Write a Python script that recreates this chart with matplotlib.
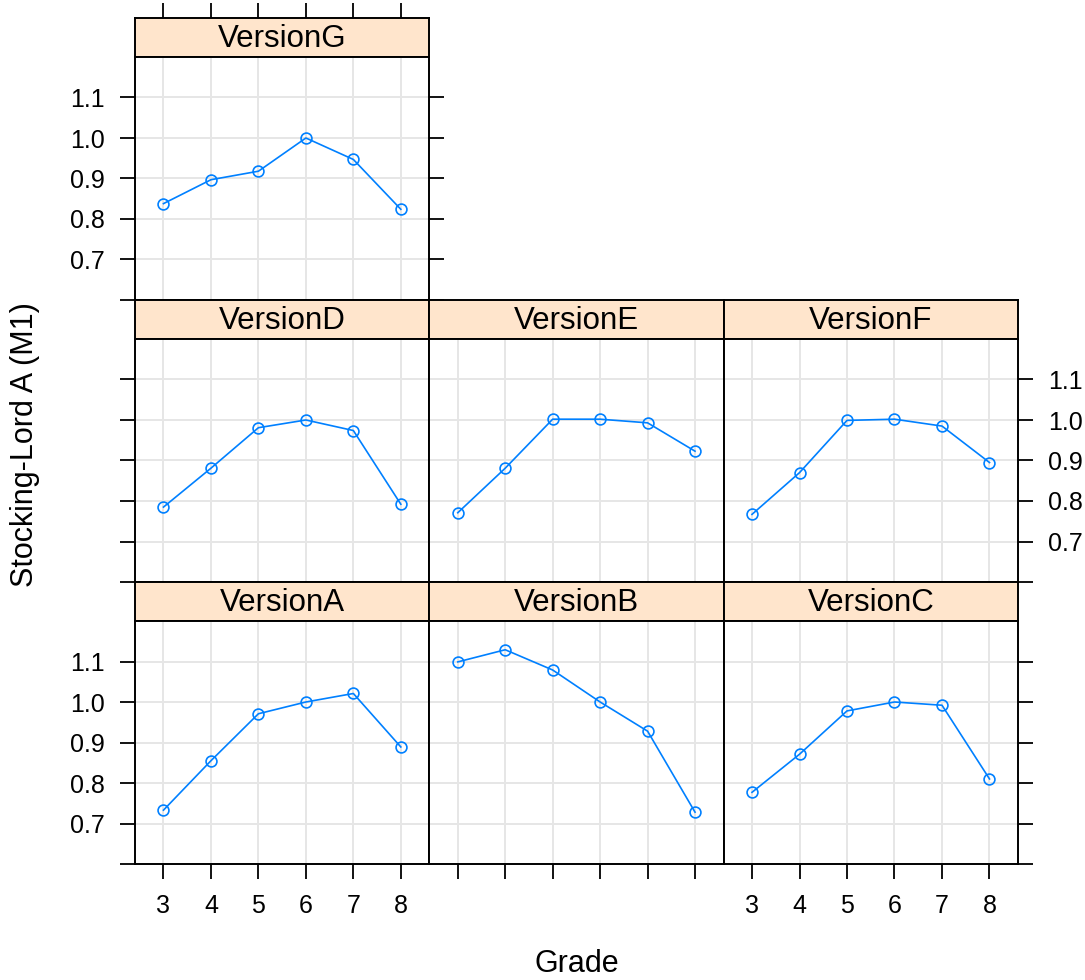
import matplotlib
matplotlib.use("Agg")
import matplotlib.pyplot as plt

plt.rcParams['font.family'] = ['Liberation Sans', 'DejaVu Sans']

# Stocking-Lord A (M1) by grade, one panel per test version
grade = [3, 4, 5, 6, 7, 8]
version_a = [0.733, 0.855, 0.971, 1.000, 1.021, 0.889]
version_b = [1.099, 1.129, 1.079, 1.000, 0.928, 0.728]
version_c = [0.777, 0.871, 0.978, 1.000, 0.992, 0.810]
version_d = [0.785, 0.881, 0.981, 1.000, 0.974, 0.792]
version_e = [0.771, 0.881, 1.002, 1.002, 0.993, 0.923]
version_f = [0.767, 0.870, 0.999, 1.002, 0.985, 0.895]
version_g = [0.838, 0.897, 0.918, 1.000, 0.947, 0.824]

y_ticks = [0.6, 0.7, 0.8, 0.9, 1.0, 1.1]
y_labels = ["", "0.7", "0.8", "0.9", "1.0", "1.1"]

W, H = 1085, 980
fig = plt.figure(figsize=(W / 100, H / 100), dpi=100)

col_x = [135, 429.3, 723.5, 1018]
row_top = [18, 300, 582]
strip_h = 39
panel_h = 243

def rect(x0, y0, x1, y1):
    return [x0 / W, 1 - y1 / H, (x1 - x0) / W, (y1 - y0) / H]

# (name, values, row, col)
panels = [
    ("VersionG", version_g, 0, 0),
    ("VersionD", version_d, 1, 0),
    ("VersionE", version_e, 1, 1),
    ("VersionF", version_f, 1, 2),
    ("VersionA", version_a, 2, 0),
    ("VersionB", version_b, 2, 1),
    ("VersionC", version_c, 2, 2),
]

tick_kw = dict(direction='out', length=10.8, width=1.3, labelsize=18, pad=11, colors='black')

for name, vals, r, c in panels:
    x0, x1 = col_x[c], col_x[c + 1]
    top = row_top[r]

    # strip on top of the panel
    sax = fig.add_axes(rect(x0, top, x1, top + strip_h))
    sax.set_facecolor('#ffe5cc')
    sax.set_xlim(2.4, 8.6)
    sax.set_ylim(0, 1)
    sax.text(0.5, 0.47, name, transform=sax.transAxes, ha='center', va='center', fontsize=22.5)
    for sp in sax.spines.values():
        sp.set_linewidth(1.4)
    sax.set_yticks([])
    if r == 0:
        sax.xaxis.set_ticks_position('top')
        sax.set_xticks(grade)
        sax.tick_params(axis='x', labeltop=False, **tick_kw)
    else:
        sax.set_xticks([])

    ax = fig.add_axes(rect(x0, top + strip_h, x1, top + strip_h + panel_h))
    ax.set_xlim(2.4, 8.6)
    ax.set_ylim(0.6, 1.2)
    for g in grade:
        ax.axvline(g, color='#e6e6e6', lw=1.4, zorder=0)
    for v in y_ticks[1:]:
        ax.axhline(v, color='#e6e6e6', lw=1.4, zorder=0)
    ax.plot(grade, vals, color='#0080ff', lw=1.2, marker='o', ms=7.8,
            mfc='none', mec='#0080ff', mew=1.2, zorder=3)
    for sp in ax.spines.values():
        sp.set_linewidth(1.4)

    # y axis: left on first column, right on last panel of the row
    show_left = c == 0
    show_right = (r == 0) or c == 2
    if show_left or show_right:
        ax.set_yticks(y_ticks)
        ax.set_yticklabels(y_labels)
        ax.tick_params(axis='y', left=show_left, right=show_right,
                       labelleft=show_left and r != 1,
                       labelright=show_right and r == 1, **tick_kw)
    else:
        ax.set_yticks([])

    # x axis on the bottom row only
    if r == 2:
        ax.set_xticks(grade)
        ax.tick_params(axis='x', bottom=True, top=False, labelbottom=(c != 1), **tick_kw)
    else:
        ax.set_xticks([])

fig.text(25 / W, 1 - 445 / H, "Stocking-Lord A (M1)", rotation=90,
         ha='center', va='center', fontsize=22)
fig.text(577 / W, 1 - 964 / H, "Grade", ha='center', va='center', fontsize=22)

fig.savefig("out.png", dpi=100)
